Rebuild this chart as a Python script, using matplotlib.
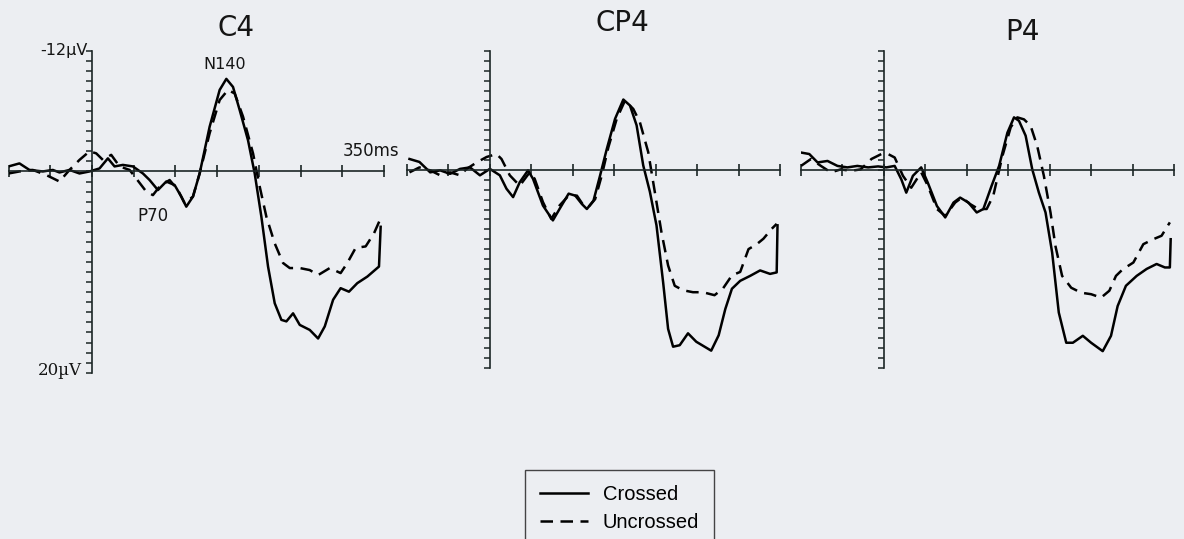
import matplotlib
matplotlib.use("Agg")
import matplotlib.pyplot as plt

# ---------------- data (time in ms, amplitude in microvolts; negative plotted up) ----------------
panel_titles = ["C4", "CP4", "P4"]
series_labels = ["Crossed", "Uncrossed"]

c4_cross_t = [-100, -87, -75, -59, -47, -39, -27, -15, -3, 9, 19, 27, 37, 49, 61, 69, 79, 89, 99, 107,
              113, 121, 129, 141, 153, 161, 169, 177, 187, 195, 203, 211, 219, 227, 233, 241, 249, 261,
              271, 279, 289, 298, 308, 318, 330, 344, 346]
c4_cross_v = [-0.5, -0.8, -0.15, 0.0, -0.15, 0.1, -0.15, 0.2, 0.0, -0.3, -1.3, -0.5, -0.65, -0.5, 0.2,
              0.85, 1.85, 1.0, 1.35, 2.5, 3.5, 2.5, 0.2, -4.45, -8.1, -9.2, -8.4, -6.1, -3.1, 0.2, 4.5,
              9.45, 13.1, 14.75, 14.9, 14.1, 15.25, 15.75, 16.6, 15.4, 12.75, 11.6, 11.95, 11.1, 10.45,
              9.45, 5.5]

c4_unc_t = [-100, -87, -71, -55, -39, -27, -15, -3, 5, 13, 23, 33, 45, 53, 65, 73, 81, 93, 103, 111,
            121, 129, 141, 153, 163, 171, 181, 193, 201, 209, 219, 229, 237, 249, 261, 271, 285, 298,
            306, 316, 328, 338, 346]
c4_unc_v = [0.2, 0.0, -0.15, 0.35, 1.0, -0.15, -1.15, -2.0, -1.8, -1.15, -1.65, -0.5, -0.15, 0.7, 2.0,
            2.35, 1.5, 0.85, 1.85, 3.15, 2.5, 0.2, -3.8, -7.1, -8.1, -7.75, -5.45, -1.8, 1.5, 4.5, 7.15,
            9.1, 9.6, 9.6, 9.8, 10.3, 9.6, 10.1, 9.1, 7.6, 7.45, 6.15, 4.65]

cp4_cross_t = [-97, -85, -72, -60, -48, -36, -24, -12, 0, 12, 20, 28, 36, 46, 52, 64, 76, 84, 95, 103,
               111, 117, 125, 133, 141, 151, 161, 169, 177, 185, 193, 201, 209, 215, 221, 229, 239,
               249, 259, 267, 276, 284, 292, 302, 314, 326, 338, 346, 347]
cp4_cross_v = [-1.1, -0.8, 0.25, 0.05, 0.4, -0.1, -0.25, 0.55, -0.1, 0.55, 1.9, 2.75, 1.25, 0.05, 0.9,
               3.6, 5.1, 3.95, 2.4, 2.6, 3.45, 3.95, 3.1, 0.55, -2.1, -5.15, -7.1, -6.5, -4.5, -0.45,
               2.2, 5.6, 11.35, 16.05, 17.85, 17.7, 16.5, 17.35, 17.85, 18.25, 16.7, 14.05, 12.0, 11.2,
               10.7, 10.15, 10.5, 10.35, 5.6]

cp4_unc_t = [-97, -85, -72, -60, -48, -36, -28, -16, -4, 8, 14, 24, 36, 48, 54, 64, 74, 84, 95, 105,
             113, 119, 127, 135, 143, 153, 163, 173, 181, 191, 199, 207, 215, 223, 233, 245, 257, 271,
             281, 292, 302, 312, 322, 330, 340, 346]
cp4_unc_v = [0.25, -0.25, 0.05, 0.55, 0.25, 0.55, -0.1, -0.75, -1.3, -1.6, -1.1, 0.55, 1.6, 0.25, 0.9,
             3.25, 4.95, 3.6, 2.6, 2.6, 3.6, 3.75, 2.95, 0.55, -2.3, -5.15, -7.0, -6.15, -4.8, -1.8,
             2.25, 6.3, 9.65, 11.7, 12.15, 12.35, 12.35, 12.65, 12.0, 10.65, 10.3, 8.0, 7.5, 6.95,
             5.95, 5.45]

p4_cross_t = [-100, -90, -80, -68, -56, -44, -32, -19, -7, 3, 13, 21, 27, 35, 45, 53, 64, 74, 84, 92,
              102, 112, 120, 130, 139, 149, 157, 163, 171, 179, 187, 195, 203, 211, 220, 228, 240, 250,
              264, 274, 282, 292, 305, 317, 329, 339, 345, 346]
p4_cross_v = [-1.75, -1.6, -0.75, -0.9, -0.4, -0.25, -0.4, -0.25, -0.35, -0.25, -0.4, 0.95, 2.3, 0.6,
              -0.25, 1.3, 3.65, 4.8, 3.3, 2.8, 3.3, 4.3, 3.95, 1.6, -0.4, -3.75, -5.3, -4.95, -3.45,
              -0.05, 2.3, 4.3, 8.35, 14.4, 17.45, 17.45, 16.75, 17.45, 18.3, 16.75, 13.75, 11.7, 10.7,
              10.0, 9.5, 9.85, 9.85, 7.0]

p4_unc_t = [-100, -88, -76, -64, -52, -40, -28, -15, -3, 5, 13, 23, 33, 45, 53, 64, 74, 86, 94, 104,
            114, 124, 132, 143, 153, 161, 169, 177, 185, 193, 201, 207, 215, 226, 238, 250, 262, 272,
            280, 288, 301, 313, 325, 335, 345]
p4_unc_v = [-0.4, -1.1, -0.4, 0.25, -0.05, 0.1, -0.05, -1.1, -1.6, -1.6, -1.25, 0.6, 1.8, 0.25, 1.6,
            3.95, 4.65, 3.3, 2.8, 3.45, 3.95, 3.95, 2.6, -1.4, -4.3, -5.3, -5.1, -4.45, -2.4, 0.6, 4.3,
            7.7, 10.7, 11.9, 12.4, 12.55, 12.9, 12.2, 10.7, 10.05, 9.35, 7.5, 7.0, 6.65, 5.3]

x_ticks = [-100, -50, 0, 50, 100, 150, 200, 250, 300, 350]
y_ticks = list(range(-12, 21))

panels = [
    (c4_cross_t, c4_cross_v, c4_unc_t, c4_unc_v),
    (cp4_cross_t, cp4_cross_v, cp4_unc_t, cp4_unc_v),
    (p4_cross_t, p4_cross_v, p4_unc_t, p4_unc_v),
]

# ---------------- figure ----------------
W, H = 1184, 539
BG = "#eceef2"
INK = "#1c2626"
TXT = "#151515"
fig = plt.figure(figsize=(W / 100, H / 100), dpi=100, facecolor=BG)

# pixel rectangles (left, top, right, bottom) of each panel's axis frame
rects_px = [(8.6, 50.7, 384, 372.7), (407, 51, 780, 368), (801, 51, 1174, 368)]
title_px = [(236, 28), (622, 23), (1022, 32)]

dash = (0, (5.0, 3.0))
handles = None
for i, ((ct, cv, ut, uv), (l, t, r, b)) in enumerate(zip(panels, rects_px)):
    ax = fig.add_axes([l / W, 1 - b / H, (r - l) / W, (b - t) / H])
    ax.set_facecolor("none")
    ax.set_xlim(-100, 350)
    ax.set_ylim(20, -12)
    for s in ("top", "right"):
        ax.spines[s].set_visible(False)
    ax.spines["left"].set_position(("data", 0))
    ax.spines["bottom"].set_position(("data", 0))
    for s in ("left", "bottom"):
        ax.spines[s].set_color(INK)
        ax.spines[s].set_linewidth(1.2)
    ax.set_xticks(x_ticks)
    ax.set_yticks(y_ticks)
    ax.tick_params(axis="x", direction="inout", length=9, width=1.2, color=INK, labelbottom=False)
    ax.tick_params(axis="y", direction="out", length=4, width=1.1, color=INK, labelleft=False)
    l1, = ax.plot(ct, cv, color="black", lw=1.8, solid_joinstyle="round", label=series_labels[0])
    l2, = ax.plot(ut, uv, color="black", lw=1.8, linestyle=dash, label=series_labels[1])
    if handles is None:
        handles = [l1, l2]
    fig.text(title_px[i][0] / W, 1 - title_px[i][1] / H, panel_titles[i], ha="center", va="center",
             fontsize=20, family="DejaVu Sans", color=TXT)
    if i == 0:
        ax.text(-5, -12, "-12\u00b5V", ha="right", va="center", fontsize=11.5,
                family="DejaVu Sans", color=TXT)
        ax.text(-12, 19.8, "20\u00b5V", ha="right", va="center", fontsize=12,
                family="DejaVu Serif", color=TXT)
        ax.text(159, -10.6, "N140", ha="center", va="center", fontsize=11.5,
                family="DejaVu Sans", color=TXT)
        ax.text(73, 4.4, "P70", ha="center", va="center", fontsize=12,
                family="DejaVu Sans", color=TXT)
        ax.text(335, -2.0, "350ms", ha="center", va="center", fontsize=12,
                family="DejaVu Sans", color=TXT)

leg = fig.legend(handles, series_labels, loc="upper left",
                 bbox_to_anchor=(525 / W, 1 - 470 / H), bbox_transform=fig.transFigure,
                 frameon=True, fancybox=False, edgecolor="#1a1a1a", facecolor=BG,
                 prop={"family": "Liberation Sans", "size": 14.5}, handlelength=2.4,
                 borderpad=0.75, labelspacing=0.42, handletextpad=0.7, borderaxespad=0.0)
leg.get_frame().set_linewidth(1.0)

fig.savefig("out.png", dpi=100, facecolor=BG)
